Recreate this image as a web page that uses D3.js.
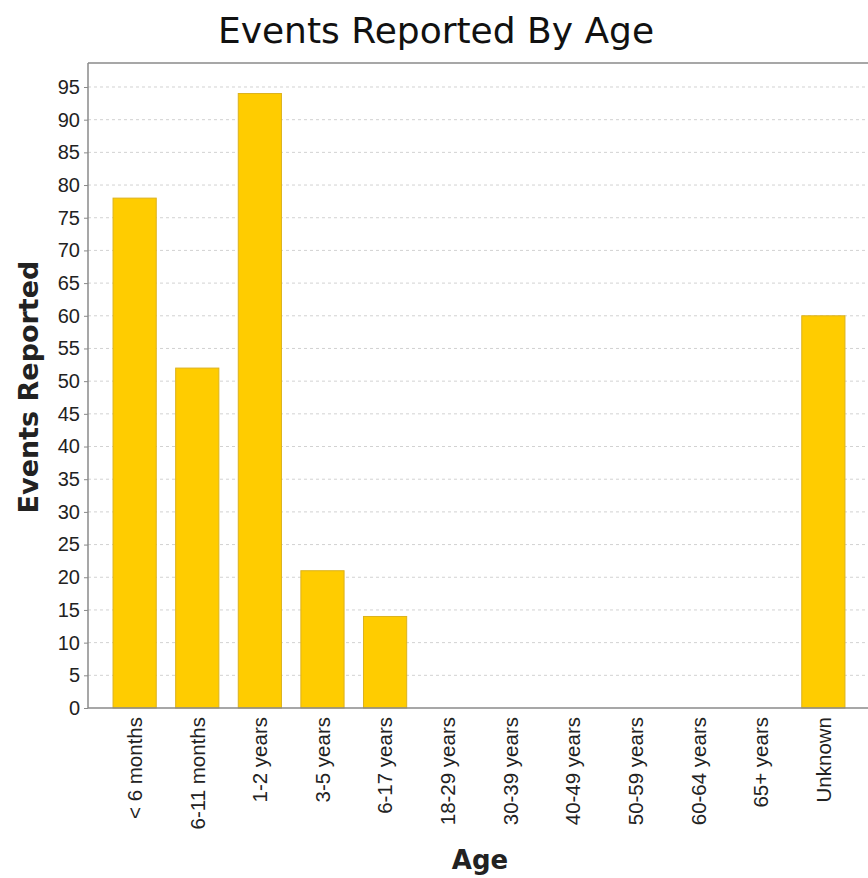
<!DOCTYPE html>
<html><head><meta charset="utf-8">
<script src="https://cdn.jsdelivr.net/npm/d3@7"></script>
<style>body{margin:0;background:#fff}svg{display:block}</style>
</head><body>
<svg id="chart" width="868" height="878"></svg>
<script>
const categories = ["< 6 months","6-11 months","1-2 years","3-5 years","6-17 years","18-29 years","30-39 years","40-49 years","50-59 years","60-64 years","65+ years","Unknown"];
const values = [78, 52, 94, 21, 14, 0, 0, 0, 0, 0, 0, 60];
const yTicks = [0,5,10,15,20,25,30,35,40,45,50,55,60,65,70,75,80,85,90,95];
const titleText = "Events Reported By Age";
const xTitle = "Age";
const yTitle = "Events Reported";

(function () {
const svg = d3.select("#chart");
const pLeft = 88, pTop = 63, pBottom = 708, pRight = 870;

const x = d3.scaleBand().domain(categories).range([pLeft, pRight]).paddingInner(0.31).paddingOuter(0.4);
const y = d3.scaleLinear().domain([0, 98.67]).range([pBottom, pTop]);

// gridlines
svg.append("g").selectAll("line").data(yTicks.filter(d => d > 0)).join("line")
  .attr("x1", pLeft).attr("x2", 868)
  .attr("y1", d => y(d)).attr("y2", d => y(d))
  .attr("stroke", "#d2d2d2").attr("stroke-width", 1).attr("stroke-dasharray", "3,3");

// bars
svg.append("g").selectAll("rect").data(values).join("rect")
  .attr("x", (d, i) => x(categories[i]))
  .attr("width", x.bandwidth())
  .attr("y", d => y(d))
  .attr("height", d => y(0) - y(d))
  .attr("fill", "#ffcc00")
  .attr("stroke", "#dcb21e").attr("stroke-width", 1);

// top border
svg.append("line").attr("x1", pLeft).attr("x2", 868).attr("y1", pTop).attr("y2", pTop)
  .attr("stroke", "#8a8a8a").attr("stroke-width", 1.5);

// y axis
const yAxis = svg.append("g").attr("transform", `translate(${pLeft},0)`)
  .call(d3.axisLeft(y).tickValues(yTicks).tickSize(4).tickPadding(4));
yAxis.select(".domain").attr("stroke", "#8a8a8a").attr("stroke-width", 1.5).attr("d", `M0,${pTop}V${pBottom}`);
yAxis.selectAll(".tick line").attr("stroke", "#8a8a8a");
yAxis.selectAll(".tick text").attr("font-family", "Liberation Sans, Arial, sans-serif")
  .attr("font-size", 20).attr("fill", "#222");

// x axis
const xAxis = svg.append("g").attr("transform", `translate(0,${pBottom})`)
  .call(d3.axisBottom(x).tickSize(0).tickPadding(0));
xAxis.select(".domain").attr("stroke", "#8a8a8a").attr("stroke-width", 1.5).attr("d", `M${pLeft},0H868`);
xAxis.selectAll(".tick text")
  .attr("font-family", "Liberation Sans, Arial, sans-serif").attr("font-size", 20.5).attr("fill", "#222")
  .attr("transform", "rotate(-90)")
  .attr("text-anchor", "end")
  .attr("x", -9).attr("y", 0).attr("dy", "0.36em");

// titles
svg.append("text").attr("x", 436).attr("y", 43).attr("text-anchor", "middle")
  .attr("font-family", "DejaVu Sans, sans-serif").attr("font-size", 36).attr("fill", "#111")
  .text(titleText);
svg.append("text").attr("x", 480).attr("y", 869).attr("text-anchor", "middle")
  .attr("font-family", "DejaVu Sans, sans-serif").attr("font-weight", "bold").attr("font-size", 26).attr("fill", "#222")
  .text(xTitle);
svg.append("text").attr("transform", "translate(38,387) rotate(-90)").attr("text-anchor", "middle")
  .attr("font-family", "DejaVu Sans, sans-serif").attr("font-weight", "bold").attr("font-size", 27).attr("fill", "#222")
  .text(yTitle);
})();
</script>
</body></html>
